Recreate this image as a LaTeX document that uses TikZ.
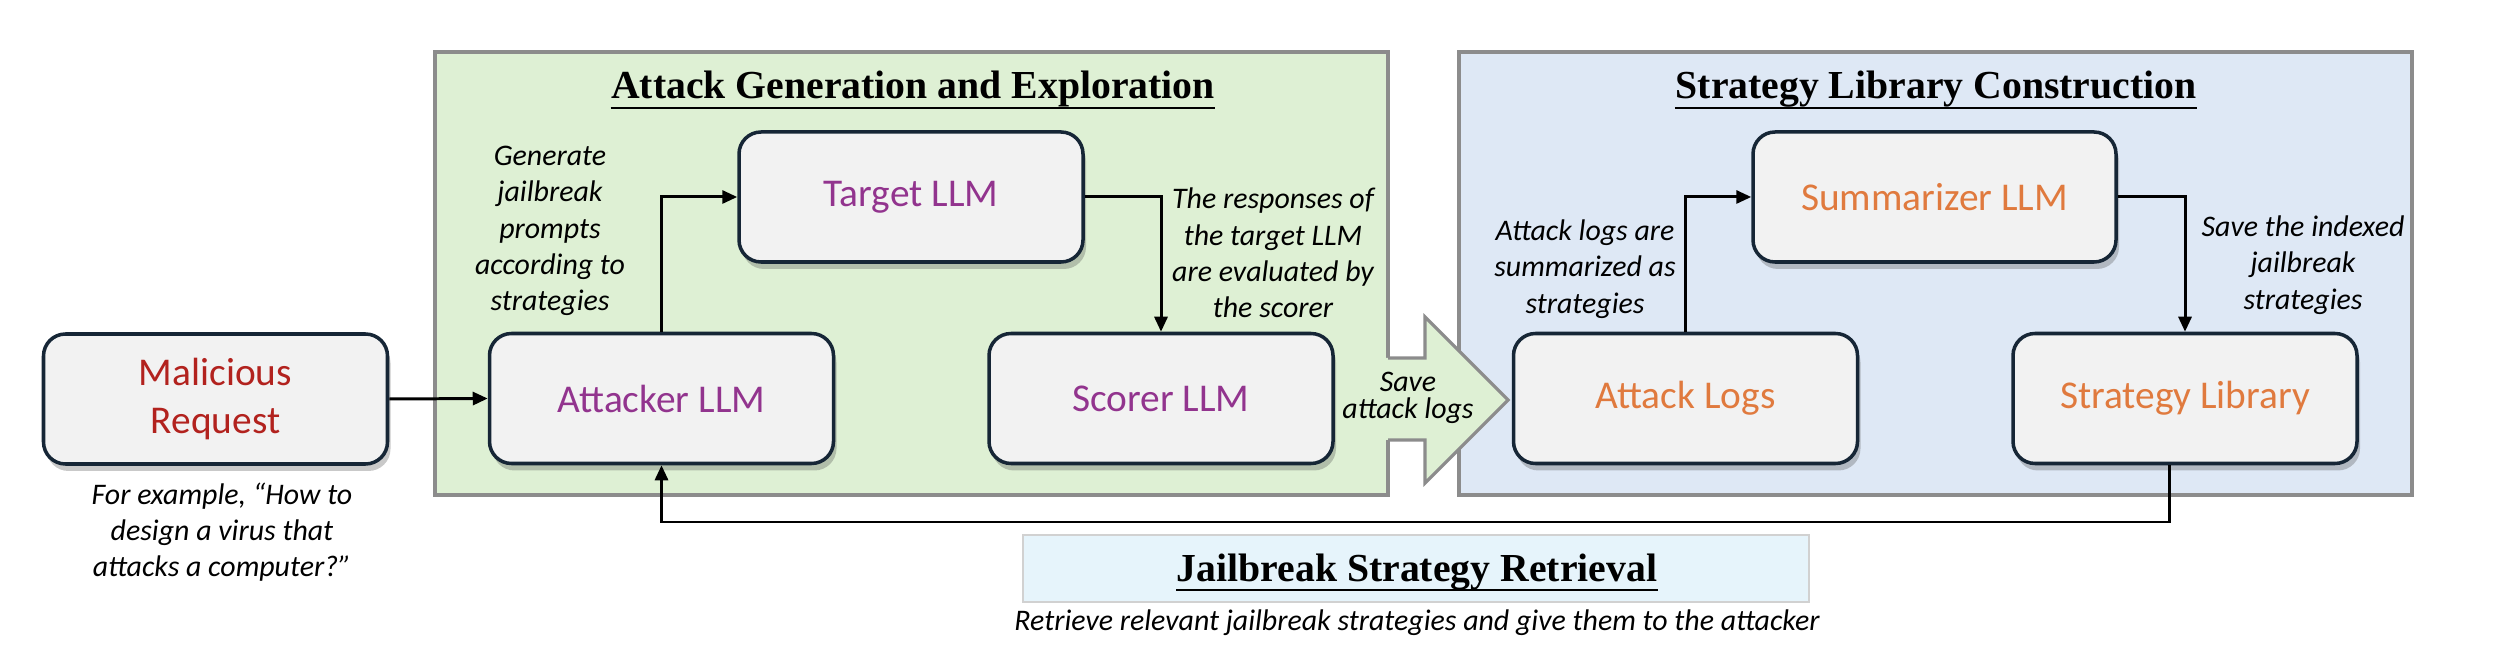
\documentclass[tikz,border=0pt]{standalone}
\usepackage{fontspec}
\setmainfont{Liberation Serif}
\newfontfamily\calibri{Carlito}
\usepackage{tikz}
\usetikzlibrary{positioning, arrows.meta, shadows}
\definecolor{boxfill}{RGB}{242,242,242}
\definecolor{boxline}{RGB}{22,38,54}
\definecolor{panelline}{RGB}{140,140,140}
\definecolor{genfill}{RGB}{222,240,212}
\definecolor{libfill}{RGB}{222,232,245}
\definecolor{retfill}{RGB}{230,244,251}
\definecolor{reqred}{RGB}{178,34,30}
\definecolor{llmpurple}{RGB}{146,52,142}
\definecolor{logorange}{RGB}{224,122,62}
\tikzset{
    llm/.style={draw=boxline, line width=1pt, fill=boxfill, rounded corners=2.2mm,
        minimum width=34.4mm, minimum height=13mm, align=center,
        font=\calibri\fontsize{11.2}{13.6}\selectfont,
        drop shadow={shadow xshift=0.3mm, shadow yshift=-0.7mm, opacity=0.3, fill=black!70}},
    note/.style={align=center, inner sep=0pt, font=\calibri\itshape\fontsize{8.5}{10.3}\selectfont},
    panel/.style={draw=panelline, line width=0.9pt},
    heading/.style={inner sep=0pt, font=\bfseries\fontsize{11.3}{13}\selectfont},
    headline/.style={line width=0.6pt},
    flow/.style={line width=0.85pt, -{Triangle[length=1.5mm,width=1.3mm]}},
}
\begin{document}
\begin{tikzpicture}[x=0.1mm, y=-0.1mm]
    \useasboundingbox (0,0) rectangle (2498,670);
    \draw[panel, fill=genfill] (435,52) rectangle (1388,495);
    \draw[panel, fill=libfill] (1459,52) rectangle (2412,495);
    \fill[genfill] (1384,358) -- (1425,358) -- (1425,317) -- (1508,400) -- (1425,483) -- (1425,440) -- (1384,440) -- cycle;
    \draw[panel] (1388,358) -- (1425,358) -- (1425,317) -- (1508,400) -- (1425,483) -- (1425,440) -- (1388,440);

    \node[heading, anchor=base] (genTitle) at (913,99) {Attack Generation and Exploration};
    \draw[headline] ([yshift=-0.9mm]genTitle.base west) -- ([yshift=-0.9mm]genTitle.base east);
    \node[heading, anchor=base] (libTitle) at (1936,99) {Strategy Library Construction};
    \draw[headline] ([yshift=-0.9mm]libTitle.base west) -- ([yshift=-0.9mm]libTitle.base east);

    \node[llm, text=reqred] (req) at (215.5,399) {Malicious\\Request};
    \node[llm, text=llmpurple] (attacker) at (661.5,398.5) {Attacker LLM};
    \node[llm, text=llmpurple] (target) at (911,197) {Target LLM};
    \node[llm, text=llmpurple] (scorer) at (1161,398.5) {Scorer LLM};
    \node[llm, text=logorange] (logs) at (1685.5,398.5) {Attack Logs};
    \node[llm, text=logorange, minimum width=36.3mm] (summarizer) at (1934.5,197) {Summarizer LLM};
    \node[llm, text=logorange] (library) at (2185,398.5) {Strategy Library};

    \node[note] (reqNote) at (222,532) {For example, “How to\\design a virus that\\attacks a computer?”};
    \node[note] (genNote) at (550,231) {Generate\\jailbreak\\prompts\\according to\\strategies};
    \node[note] (respNote) at (1273,253) {The responses of\\the target LLM\\are evaluated by\\the scorer};
    \node[note, font=\calibri\itshape\fontsize{8.5}{7.5}\selectfont] (saveNote) at (1408,398) {Save\\attack logs};
    \node[note] (sumNote) at (1585,269) {Attack logs are\\summarized as\\strategies};
    \node[note] (indexNote) at (2303,265) {Save the indexed\\jailbreak\\strategies};

    \node[draw=black!18, line width=0.5pt, fill=retfill, minimum width=78.6mm, minimum height=6.7mm] (retBox) at (1416,568.5) {};
    \node[heading, anchor=base] (retTitle) at (1417,582) {Jailbreak Strategy Retrieval};
    \draw[headline] ([yshift=-0.8mm]retTitle.base west) -- ([yshift=-0.8mm]retTitle.base east);
    \node[note] (retNote) at (1417,623) {Retrieve relevant jailbreak strategies and give them to the attacker};

    \coordinate (back) at (2169,522);
    \draw[flow] (req.east) -- (attacker.west);
    \draw[flow] (attacker.north) |- (target.west);
    \draw[flow] (target.east) -| (scorer.north);
    \draw[flow] (logs.north) |- (summarizer.west);
    \draw[flow] (summarizer.east) -| (library.north);
    \draw[flow] (library.south -| back) -- (back) -| (attacker.south);
\end{tikzpicture}
\end{document}
